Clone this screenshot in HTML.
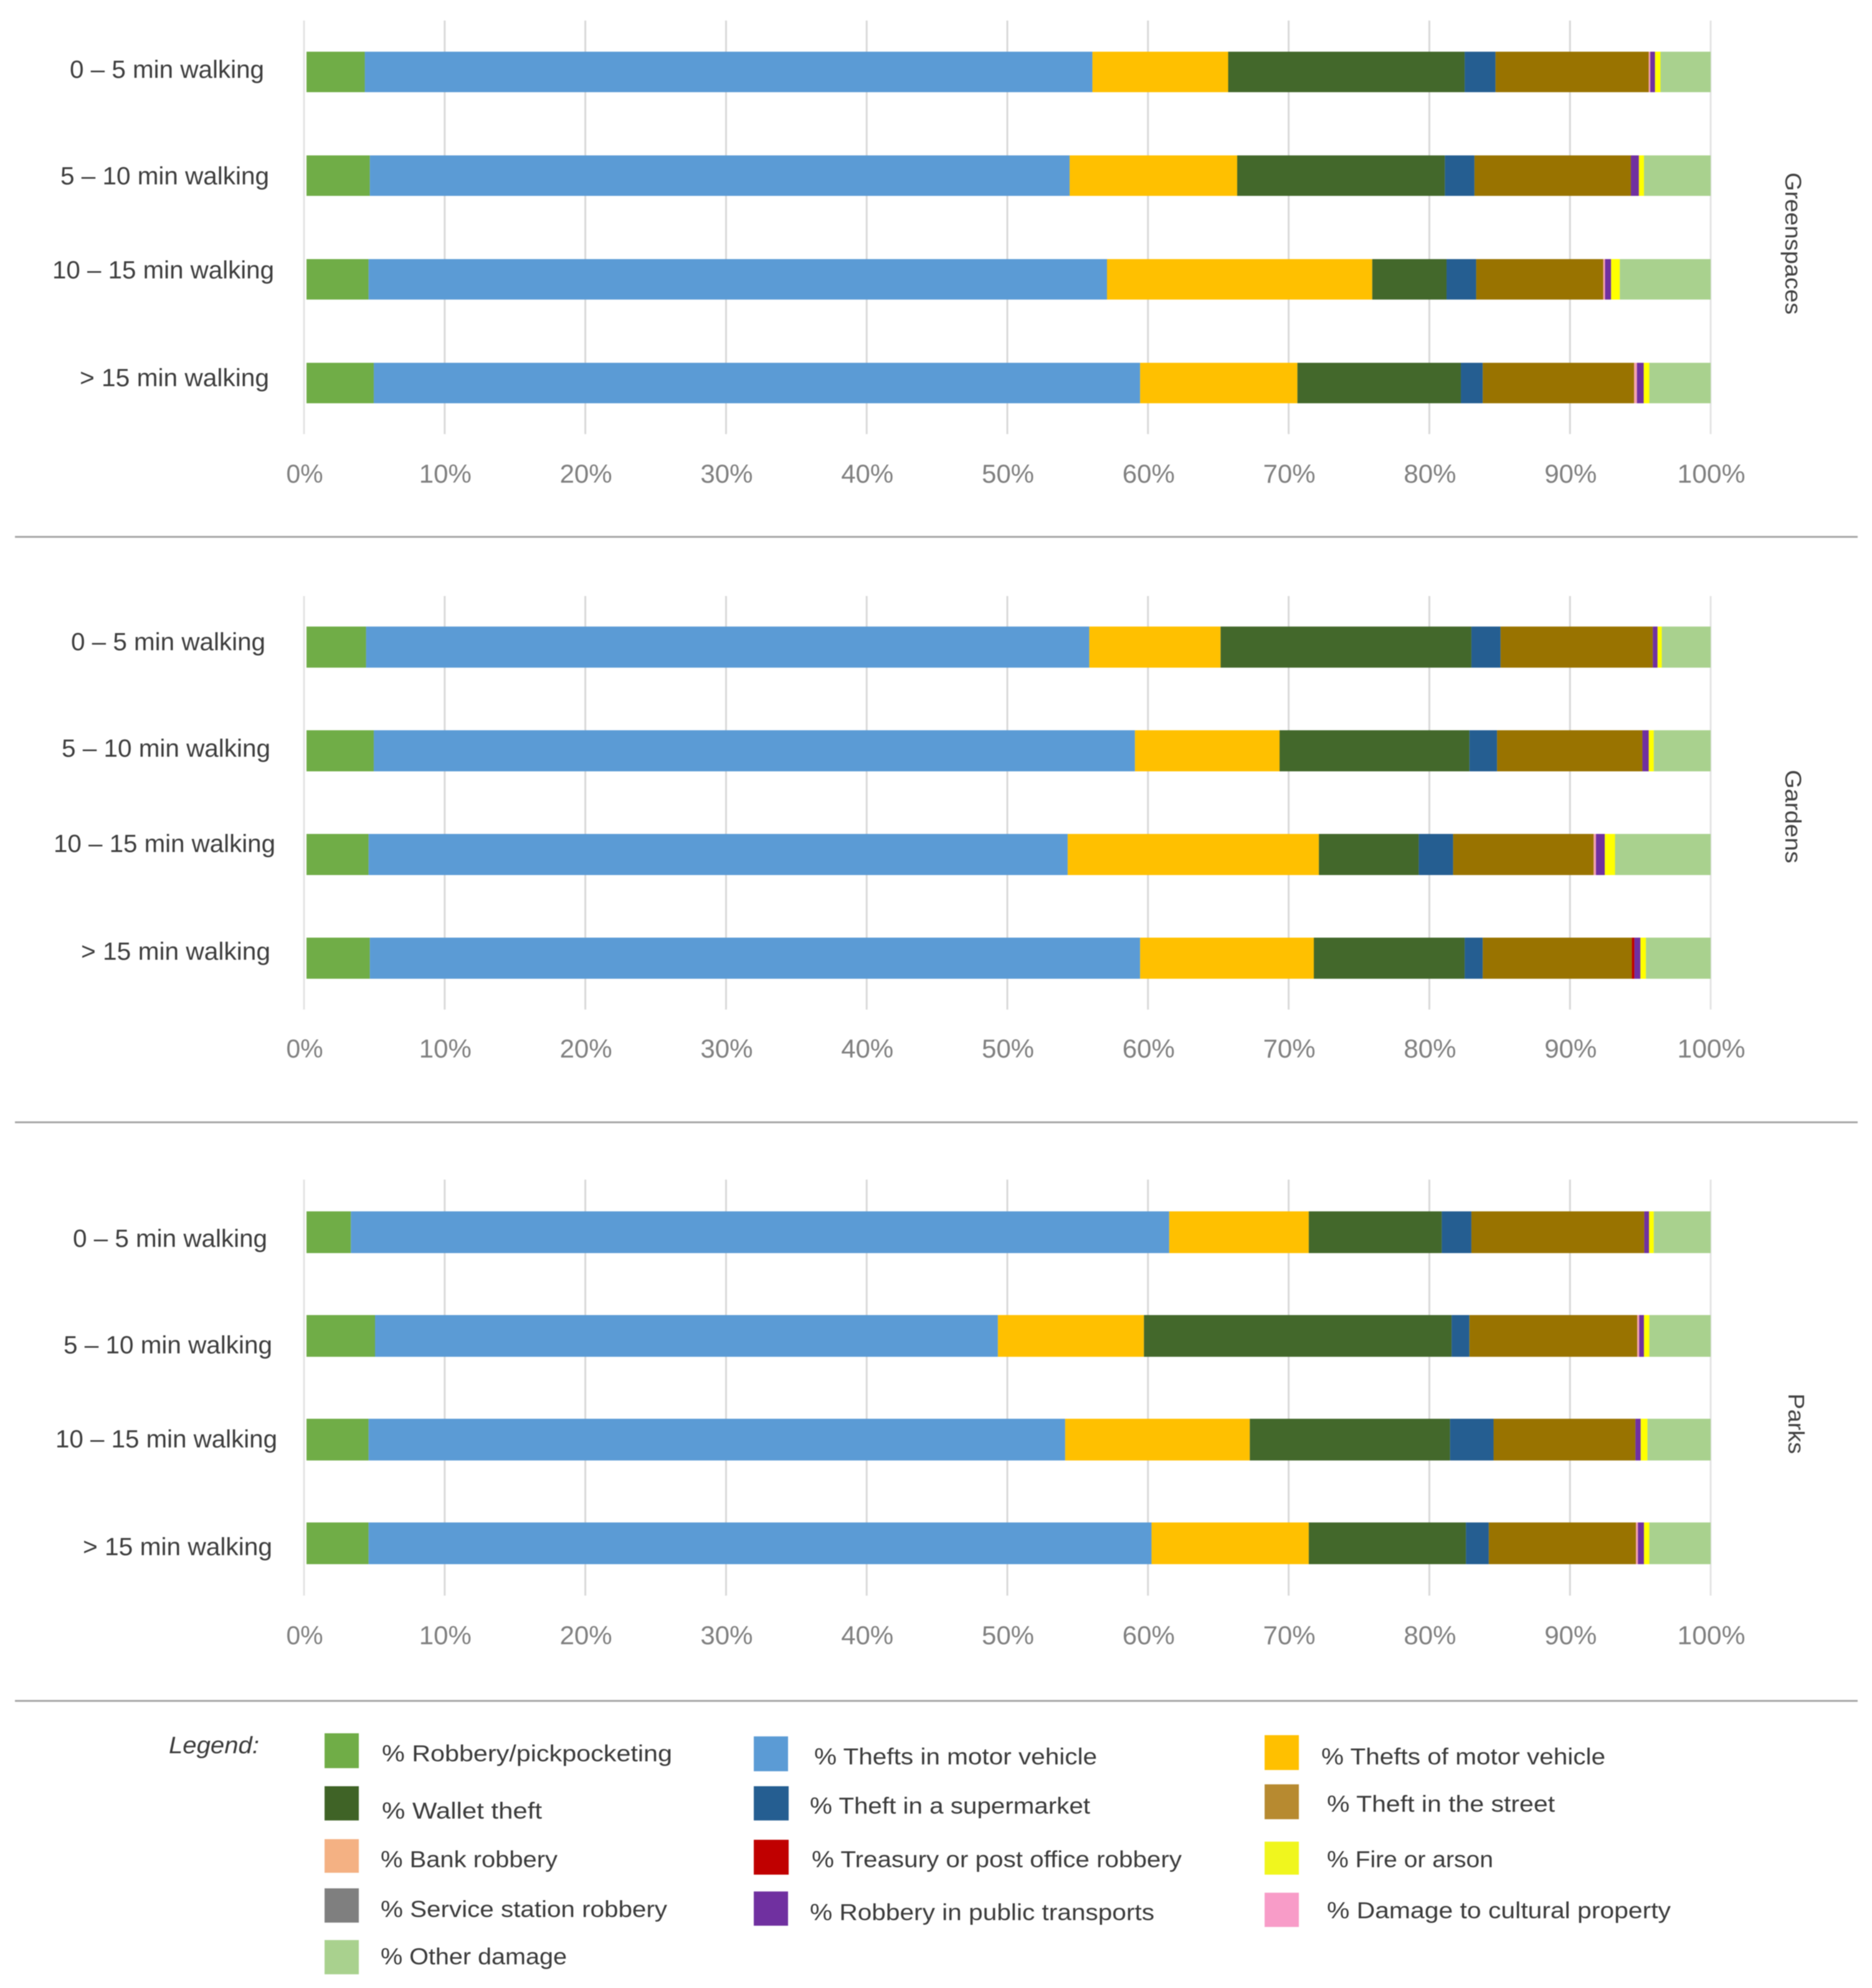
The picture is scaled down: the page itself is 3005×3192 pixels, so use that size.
<!DOCTYPE html>
<html lang="en">
<head>
<meta charset="utf-8">
<title>Crime types by walking distance to greenspaces, gardens and parks</title>
<style>
html,body{margin:0;padding:0;background:#fff;width:3005px;height:3192px;overflow:hidden}
svg{display:block;filter:blur(0.8px)}
text{font-family:"Liberation Sans",sans-serif}
.cat{font-size:40px;fill:#3c3c3c}
.tick{font-size:42px;fill:#7f7f7f}
.title{font-size:36px;fill:#404040}
.leg{font-size:37px;fill:#3a3a3a}
</style>
</head>
<body>
<svg id="chart" xmlns="http://www.w3.org/2000/svg" width="3005" height="3192" viewBox="0 0 3005 3192">
  <rect x="0" y="0" width="3005" height="3192" fill="#ffffff"/>
  <g id="panels"></g>
  <g id="legend">
    <text x="271" y="2815" font-style="italic" style="font-size:38px;fill:#3a3a3a" textLength="145" lengthAdjust="spacingAndGlyphs">Legend:</text>

    <rect x="521" y="2783" width="55" height="56" fill="#70ad47"/>
    <text class="leg" x="613" y="2828" textLength="466" lengthAdjust="spacingAndGlyphs">% Robbery/pickpocketing</text>
    <rect x="521" y="2868" width="55" height="55" fill="#3f6326"/>
    <text class="leg" x="613" y="2920" textLength="257" lengthAdjust="spacingAndGlyphs">% Wallet theft</text>
    <rect x="521" y="2953" width="55" height="54" fill="#f4b183"/>
    <text class="leg" x="611" y="2998" textLength="284" lengthAdjust="spacingAndGlyphs">% Bank robbery</text>
    <rect x="521" y="3032" width="55" height="55" fill="#7f7f7f"/>
    <text class="leg" x="611" y="3078" textLength="460" lengthAdjust="spacingAndGlyphs">% Service station robbery</text>
    <rect x="521" y="3115" width="55" height="55" fill="#a9d18e"/>
    <text class="leg" x="611" y="3154" textLength="299" lengthAdjust="spacingAndGlyphs">% Other damage</text>

    <rect x="1210" y="2788" width="55" height="56" fill="#5b9bd5"/>
    <text class="leg" x="1307" y="2833" textLength="454" lengthAdjust="spacingAndGlyphs">% Thefts in motor vehicle</text>
    <rect x="1210" y="2868" width="56" height="55" fill="#255e91"/>
    <text class="leg" x="1300" y="2912" textLength="450" lengthAdjust="spacingAndGlyphs">% Theft in a supermarket</text>
    <rect x="1210" y="2954" width="56" height="56" fill="#c00000"/>
    <text class="leg" x="1303" y="2998" textLength="594" lengthAdjust="spacingAndGlyphs">% Treasury or post office robbery</text>
    <rect x="1210" y="3037" width="55" height="55" fill="#7030a0"/>
    <text class="leg" x="1300" y="3083" textLength="553" lengthAdjust="spacingAndGlyphs">% Robbery in public transports</text>

    <rect x="2030" y="2786" width="55" height="56" fill="#ffc000"/>
    <text class="leg" x="2121" y="2833" textLength="456" lengthAdjust="spacingAndGlyphs">% Thefts of motor vehicle</text>
    <rect x="2030" y="2865" width="55" height="56" fill="#b78a30"/>
    <text class="leg" x="2130" y="2909" textLength="366" lengthAdjust="spacingAndGlyphs">% Theft in the street</text>
    <rect x="2030" y="2957" width="55" height="53" fill="#f0f61e"/>
    <text class="leg" x="2130" y="2998" textLength="267" lengthAdjust="spacingAndGlyphs">% Fire or arson</text>
    <rect x="2030" y="3039" width="55" height="55" fill="#f89cc8"/>
    <text class="leg" x="2130" y="3080" textLength="552" lengthAdjust="spacingAndGlyphs">% Damage to cultural property</text>
  </g>
</svg>
<script>
// Row order: Greenspaces (4 rows), Gardens (4 rows), Parks (4 rows)
const panelNames = ['Greenspaces', 'Gardens', 'Parks'];
const categories = ['0 – 5 min walking', '5 – 10 min walking', '10 – 15 min walking', '> 15 min walking'];
const tickLabels = ['0%', '10%', '20%', '30%', '40%', '50%', '60%', '70%', '80%', '90%', '100%'];
const tickValues = [0, 10, 20, 30, 40, 50, 60, 70, 80, 90, 100];

const robbery       = [4.15, 4.51, 4.42, 4.79, 4.24, 4.79, 4.42, 4.51, 3.16, 4.88, 4.42, 4.42];
const theftsInCar   = [51.82, 49.84, 52.59, 54.58, 51.51, 54.21, 49.79, 54.86, 58.28, 44.36, 49.61, 55.76];
const theftsOfCar   = [9.67, 11.93, 18.89, 11.20, 9.35, 10.30, 17.89, 12.37, 9.94, 10.40, 13.15, 11.20];
const walletTheft   = [16.84, 14.79, 5.29, 11.64, 17.86, 13.52, 7.11, 10.74, 9.47, 21.91, 14.26, 11.19];
const supermarket   = [2.20, 2.11, 2.11, 1.56, 2.08, 1.97, 2.45, 1.29, 2.11, 1.27, 3.10, 1.63];
const streetTheft   = [10.91, 11.14, 9.05, 10.78, 10.84, 10.35, 10.01, 10.62, 12.31, 11.95, 10.10, 10.48];
const bankRobbery   = [0.11, 0, 0.13, 0.20, 0, 0, 0.16, 0, 0, 0.14, 0, 0.14];
const treasury      = [0, 0, 0, 0, 0, 0, 0, 0.18, 0, 0, 0, 0];
const serviceStation = [0, 0, 0, 0, 0, 0, 0, 0, 0, 0, 0, 0];
const publicTransport = [0.34, 0.57, 0.43, 0.48, 0.34, 0.45, 0.63, 0.43, 0.34, 0.34, 0.38, 0.43];
const fireArson     = [0.39, 0.36, 0.62, 0.40, 0.30, 0.36, 0.73, 0.39, 0.34, 0.38, 0.48, 0.38];
const culturalDamage = [0, 0, 0, 0, 0, 0, 0, 0, 0, 0, 0, 0];
const otherDamage   = [3.57, 4.75, 6.47, 4.37, 3.48, 4.05, 6.81, 4.61, 4.05, 4.37, 4.50, 4.37];

const seriesValues = [robbery, theftsInCar, theftsOfCar, walletTheft, supermarket, streetTheft, bankRobbery, treasury, serviceStation, publicTransport, fireArson, culturalDamage, otherDamage];
const seriesKeys = ['robbery', 'thefts-in-vehicle', 'thefts-of-vehicle', 'wallet-theft', 'supermarket', 'street-theft', 'bank-robbery', 'treasury', 'service-station', 'public-transport', 'fire', 'cultural-damage', 'other-damage'];
const seriesColors = ['#70ad47', '#5b9bd5', '#ffc000', '#43682b', '#255e91', '#997300', '#f4a0b0', '#c00000', '#7f7f7f', '#7030a0', '#ffff00', '#ff9ccc', '#a9d18e'];

const SVG_NS = 'http://www.w3.org/2000/svg';
const panelsGroup = document.getElementById('panels');

function barX(value) { return 492 + value * 22.54; }
function gridX(value) { return 488 + value * 22.58; }

function panelGeometry(p) {
  if (p === 0) return { barTop: 83, barH: 65, gridTop: 33, gridBottom: 697, tickBase: 775, sepY: 862, labelDx: 0, labelBase: [125, 296, 447, 620], titleX: 2866, titleY: 391, titleLen: 228 };
  if (p === 1) return { barTop: 1006, barH: 66, gridTop: 957, gridBottom: 1621, tickBase: 1698, sepY: 1802, labelDx: 2, labelBase: [1044, 1215, 1368, 1541], titleX: 2866, titleY: 1311, titleLen: 150 };
  return { barTop: 1945, barH: 67, gridTop: 1894, gridBottom: 2562, tickBase: 2640, sepY: 2731, labelDx: 5, labelBase: [2002, 2173, 2324, 2497], titleX: 2871, titleY: 2286, titleLen: 97 };
}

function rowY(geo, row) { return geo.barTop + row * 166.5; }

function tickWidth(label) {
  if (label.length === 2) return 59;
  if (label.length === 3) return 84;
  return 109;
}

panelNames.forEach(function (panelName, p) {
  const geo = panelGeometry(p);
  const panelKey = panelName.toLowerCase();
  const g = document.createElementNS(SVG_NS, 'g');
  
  
  panelsGroup.appendChild(g);

  tickValues.forEach(function (tick, t) {
    const line = document.createElementNS(SVG_NS, 'line');
    
    
    line.setAttribute('x1', gridX(tick));
    line.setAttribute('x2', gridX(tick));
    line.setAttribute('y1', geo.gridTop);
    line.setAttribute('y2', geo.gridBottom);
    line.setAttribute('stroke', tick === 0 || tick === 100 ? '#e4e4e4' : '#d9d9d9');
    line.setAttribute('stroke-width', '3');
    g.appendChild(line);

    const label = document.createElementNS(SVG_NS, 'text');
    
    
    label.setAttribute('class', 'tick');
    label.setAttribute('x', gridX(tick) + 1);
    label.setAttribute('y', geo.tickBase);
    label.setAttribute('text-anchor', 'middle');
    label.setAttribute('textLength', tickWidth(tickLabels[t]));
    label.setAttribute('lengthAdjust', 'spacingAndGlyphs');
    label.textContent = tickLabels[t];
    g.appendChild(label);
  });

  categories.forEach(function (category, row) {
    const dataIndex = p * 4 + row;
    let cumulative = 0;
    seriesValues.forEach(function (values, s) {
      const v = values[dataIndex];
      if (v > 0) {
        const rect = document.createElementNS(SVG_NS, 'rect');
        
        
        rect.setAttribute('x', barX(cumulative));
        rect.setAttribute('y', rowY(geo, row));
        rect.setAttribute('width', barX(cumulative + v) - barX(cumulative));
        rect.setAttribute('height', geo.barH);
        rect.setAttribute('fill', seriesColors[s]);
        g.appendChild(rect);
      }
      cumulative += v;
    });

    const catLabel = document.createElementNS(SVG_NS, 'text');
    
    
    catLabel.setAttribute('class', 'cat');
    catLabel.setAttribute('x', (row === 3 ? 128 : row === 2 ? 84 : row === 1 ? 97 : 112) + geo.labelDx);
    catLabel.setAttribute('y', geo.labelBase[row]);
    catLabel.setAttribute('textLength', row === 3 ? 304 : row === 2 ? 356 : row === 1 ? 335 : 312);
    catLabel.setAttribute('lengthAdjust', 'spacingAndGlyphs');
    catLabel.textContent = category;
    g.appendChild(catLabel);
  });

  const title = document.createElementNS(SVG_NS, 'text');
  
  
  title.setAttribute('class', 'title');
  title.setAttribute('text-anchor', 'middle');
  title.setAttribute('transform', 'translate(' + geo.titleX + ',' + geo.titleY + ') rotate(90)');
  title.setAttribute('textLength', geo.titleLen);
  title.setAttribute('lengthAdjust', 'spacingAndGlyphs');
  title.textContent = panelName;
  g.appendChild(title);

  const sep = document.createElementNS(SVG_NS, 'line');
  
  
  sep.setAttribute('x1', 24);
  sep.setAttribute('x2', 2982);
  sep.setAttribute('y1', geo.sepY);
  sep.setAttribute('y2', geo.sepY);
  sep.setAttribute('stroke', '#a6a6a6');
  sep.setAttribute('stroke-width', '3');
  g.appendChild(sep);
});
</script>
</body>
</html>
